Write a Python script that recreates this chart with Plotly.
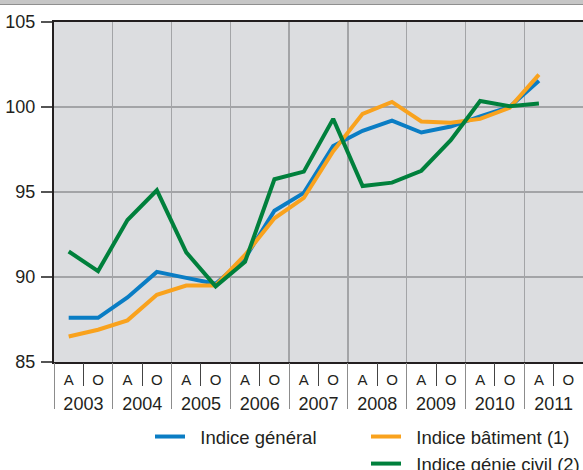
import plotly.graph_objects as go

# ---- data ----
years = ["2003", "2004", "2005", "2006", "2007", "2008", "2009", "2010", "2011"]
halves = ["A", "O"]
periods = [f"{y} {h}" for y in years for h in halves]  # 18 slots (2011 O empty)

general = [87.6, 87.6, 88.8, 90.3, 89.95, 89.6, 91.1, 93.9, 94.95, 97.7,
           98.6, 99.2, 98.5, 98.85, 99.45, 100.0, 101.55]
batiment = [86.5, 86.9, 87.45, 88.95, 89.5, 89.5, 91.3, 93.45, 94.65, 97.4,
            99.6, 100.3, 99.15, 99.08, 99.3, 99.95, 101.9]
genie_civil = [91.5, 90.35, 93.35, 95.1, 91.45, 89.45, 90.9, 95.75, 96.2, 99.3,
               95.35, 95.55, 96.25, 98.05, 100.35, 100.05, 100.2]

y_ticks = [85, 90, 95, 100, 105]
ref_levels = [100]

names = ["Indice général", "Indice bâtiment (1)", "Indice génie civil (2)"]
colors = ["#0a7dc4", "#f9a21d", "#00803c"]

TXT = "#231f20"
FONT = "Liberation Sans, Arial, sans-serif"
NB = "\u00a0\u00a0"

n = len(periods)
year_bounds = [i - 0.5 for i in range(0, n, 2)]
half_bounds = [i + 0.5 for i in range(0, n, 2)]
year_centers = [i + 0.5 for i in range(0, n, 2)]
xr = [-0.5, n - 0.5]

fig = go.Figure()
series = [general, batiment, genie_civil]
legends = ["legend", "legend2", "legend2"]
for s, nm, c, lg in zip(series, names, colors, legends):
    fig.add_trace(go.Scatter(
        x=periods[:len(s)], y=s, mode="lines", name=NB + nm,
        line=dict(color=c, width=4), legend=lg, hoverinfo="skip"))

# empty helper traces so the overlay axes (grid / year labels) get drawn
for ax in ["x2", "x3"]:
    fig.add_trace(go.Scatter(x=[None], y=[None], xaxis=ax, yaxis="y",
                             mode="lines", showlegend=False, hoverinfo="skip"))

fig.update_layout(
    width=583, height=470,
    margin=dict(l=54, r=0, t=22, b=108, autoexpand=False),
    paper_bgcolor="white", plot_bgcolor="#dcdde0",
    font=dict(family=FONT, color=TXT, size=18),
    hovermode=False,
    xaxis=dict(
        type="category", categoryorder="array", categoryarray=periods,
        range=xr, tickvals=periods, ticktext=[h for _ in years for h in halves],
        showgrid=False, zeroline=False, ticks="", ticklabelstandoff=3,
        tickfont=dict(size=15, color=TXT),
        showline=True, linecolor=TXT, linewidth=2, mirror=True),
    xaxis2=dict(
        overlaying="x", anchor="y", type="linear", range=xr,
        tickvals=year_bounds, showticklabels=False,
        showgrid=True, gridcolor="#a3a4a7", gridwidth=1.3,
        ticks="outside", ticklen=46, tickcolor="#8c8c8c", tickwidth=1,
        minor=dict(tickvals=half_bounds, ticks="outside", ticklen=23,
                   tickcolor="#444444", tickwidth=1, showgrid=False),
        zeroline=False, showline=False),
    xaxis3=dict(
        overlaying="x", anchor="y", type="linear", range=xr,
        tickvals=year_centers, ticktext=years, ticks="",
        ticklabelstandoff=29, tickfont=dict(size=18, color=TXT),
        showgrid=False, zeroline=False, showline=False),
    yaxis=dict(
        range=[85, 105], tickvals=y_ticks, showgrid=True,
        gridcolor="#a3a4a7", gridwidth=1.3, zeroline=False,
        ticks="outside", ticklen=11, tickcolor="#555555", tickwidth=1.3,
        tickfont=dict(size=18, color=TXT), ticklabelstandoff=2,
        showline=True, linecolor=TXT, linewidth=2),
    legend=dict(
        x=(150 - 54) / 529, xanchor="left", y=(362 - 418) / 340, yanchor="top",
        bgcolor="rgba(0,0,0,0)", borderwidth=0, orientation="v",
        font=dict(size=18.5, color=TXT), itemwidth=30),
    legend2=dict(
        x=(366 - 54) / 529, xanchor="left", y=(362 - 418) / 340, yanchor="top",
        bgcolor="rgba(0,0,0,0)", borderwidth=0, orientation="v",
        font=dict(size=18.5, color=TXT), itemwidth=30, tracegroupgap=0),
    showlegend=True,
)

# dark reference line at 100 (above grid, below data)
for lv in ref_levels:
    fig.add_shape(type="line", xref="paper", x0=0, x1=1, yref="y", y0=lv, y1=lv,
                  line=dict(color=TXT, width=1.5), layer="between")

# top frame band
fig.add_shape(type="rect", xref="paper", x0=-0.2, x1=1.2, yref="paper",
              y0=(362 - 4.5) / 340, y1=(362 + 2) / 340,
              fillcolor="#c6c6c6", line=dict(width=0))
fig.add_shape(type="line", xref="paper", x0=-0.2, x1=1.2, yref="paper",
              y0=(362 - 4.5) / 340, y1=(362 - 4.5) / 340,
              line=dict(color="#8f8f8f", width=1))

fig.write_html("out.html",
               config={"displayModeBar": False, "staticPlot": True},
               post_script="document.body.style.margin='0';"
                           "document.body.style.overflow='hidden';")
